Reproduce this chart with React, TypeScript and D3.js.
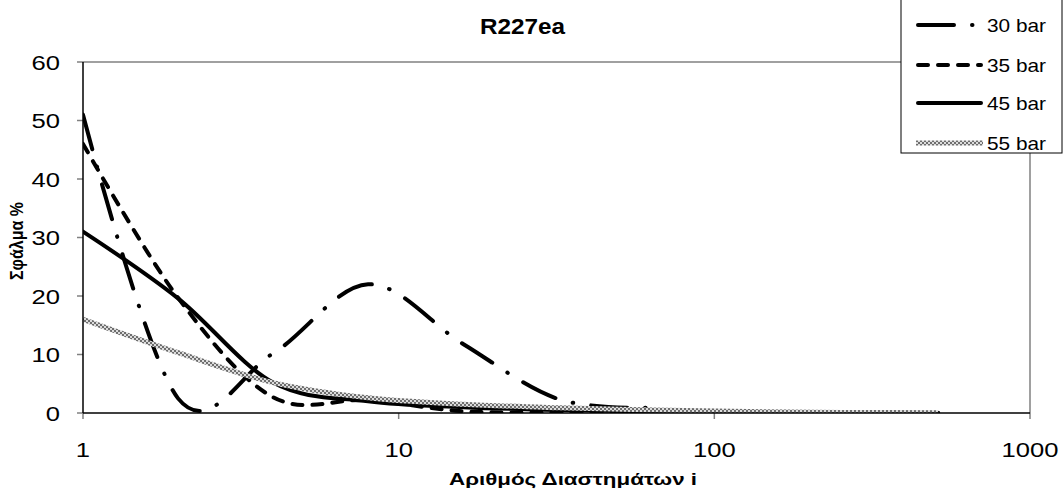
import React from "react";
import * as d3 from "d3";

const title = "R227ea";
const xLabel = "Αριθμός Διαστημάτων i";
const yLabel = "Σφάλμα %";
const iValues = [1, 2, 4, 8, 16, 32, 64, 128, 256, 512];
const bar30 = [51, 2.5, 10.2, 22, 11.8, 2.4, 0.9];
const bar35 = [46, 19.7, 2.7, 2.2, 0.3, 0.1, 0.05, 0.02, 0.01, 0];
const bar45 = [31, 19.6, 5.2, 2.0, 1.0, 0.5, 0.3, 0.1, 0.05, 0.02];
const bar55 = [16, 10.3, 5.2, 2.6, 1.5, 0.9, 0.5, 0.25, 0.1, 0.05];
const seriesNames = ["30 bar", "35 bar", "45 bar", "55 bar"];
const yTicks = [0, 10, 20, 30, 40, 50, 60];
const xTicks = [1, 10, 100, 1000];

const W = 1064;
const H = 491;
const L = 83, R = 1030, T = 62, B = 413;
const FONT = "Arial, 'Liberation Sans', sans-serif";
const SX = 1.22;

const styles = [
  { stroke: "#000", width: 4, dash: "36,18,0.5,18", cap: "round" },
  { stroke: "#000", width: 4, dash: "10,10", cap: "round" },
  { stroke: "#000", width: 4, dash: undefined, cap: "round" },
  { stroke: "url(#checker)", width: 5, dash: undefined, cap: "butt" },
];

export default function App() {
  const x = d3.scaleLog().domain([1, 1000]).range([L, R]);
  const y = d3.scaleLinear().domain([0, 60]).range([B, T]);
  const data = [bar30, bar35, bar45, bar55];
  const line = d3
    .line<[number, number]>()
    .x((d) => x(d[0]))
    .y((d) => y(d[1]))
    .curve(d3.curveCardinal.tension(0));

  const legendY = [25, 65, 103, 143];

  return (
    <svg width={W} height={H} style={{ position: "absolute", left: 0, top: 0, background: "#fff" }}>
      <defs>
        <pattern id="checker" width={4} height={4} patternUnits="userSpaceOnUse">
          <rect width={4} height={4} fill="#dcdcdc" />
          <rect x={0} y={0} width={2} height={2} fill="#6e6e6e" />
          <rect x={2} y={2} width={2} height={2} fill="#6e6e6e" />
        </pattern>
        <clipPath id="plotClip">
          <rect x={L} y={T} width={R - L} height={B - T} />
        </clipPath>
      </defs>
      <rect width={W} height={H} fill="#fff" />
      {/* plot border */}
      <line x1={L} x2={R} y1={T} y2={T} stroke="#808080" strokeWidth={1.5} />
      <line x1={R} x2={R} y1={T} y2={B} stroke="#808080" strokeWidth={1.5} />
      {/* y ticks */}
      {yTicks.map((t) => (
        <g key={"y" + t}>
          <line x1={L - 6} x2={L} y1={y(t)} y2={y(t)} stroke="#808080" strokeWidth={1.5} />
          <text
            transform={`translate(${L - 23},${y(t) + 7.5}) scale(${SX},1)`}
            textAnchor="end"
            fontFamily={FONT}
            fontSize={21}
            fill="#000"
          >
            {t}
          </text>
        </g>
      ))}
      {xTicks.map((t) => (
        <g key={"x" + t}>
          <line x1={x(t)} x2={x(t)} y1={B} y2={B + 6} stroke="#808080" strokeWidth={1.5} />
          <text
            transform={`translate(${x(t)},${B + 44}) scale(${SX},1)`}
            textAnchor="middle"
            fontFamily={FONT}
            fontSize={21}
            fill="#000"
          >
            {t}
          </text>
        </g>
      ))}
      <g clipPath="url(#plotClip)">
        {data.map((vals, si) => {
          const pts: [number, number][] = vals.map((v, k) => [iValues[k], v]);
          const s = styles[si];
          return (
            <path
              key={si}
              d={line(pts) || ""}
              fill="none"
              stroke={s.stroke}
              strokeWidth={s.width}
              strokeDasharray={s.dash}
              strokeLinecap={s.cap as any}
              strokeLinejoin="round"
            />
          );
        })}
      </g>
      {/* axes */}
      <line x1={L} x2={L} y1={T} y2={B} stroke="#000" strokeWidth={1.5} />
      <line x1={L} x2={R} y1={B} y2={B} stroke="#000" strokeWidth={1.5} />
      {/* title */}
      <text
        x={480}
        y={34}
        textLength={85}
        lengthAdjust="spacingAndGlyphs"
        fontFamily={FONT}
        fontSize={22}
        fontWeight="bold"
      >
        {title}
      </text>
      <text
        x={449}
        y={485}
        textLength={248}
        lengthAdjust="spacingAndGlyphs"
        fontFamily={FONT}
        fontSize={17}
        fontWeight="bold"
      >
        {xLabel}
      </text>
      <text
        transform={`translate(23,280) rotate(-90)`}
        x={0}
        y={0}
        textLength={78}
        lengthAdjust="spacingAndGlyphs"
        fontFamily={FONT}
        fontSize={17.5}
        fontWeight="bold"
      >
        {yLabel}
      </text>
      {/* legend */}
      <rect x={901} y={-1} width={161} height={154} fill="#fff" stroke="#000" strokeWidth={1} />
      {seriesNames.map((n, si) => {
        const s = styles[si];
        const ly = legendY[si];
        return (
          <g key={n}>
            <line
              x1={si < 3 ? 918 : 916}
              x2={si < 3 ? 981 : 983}
              y1={ly}
              y2={ly}
              stroke={s.stroke}
              strokeWidth={s.width}
              strokeDasharray={s.dash}
              strokeLinecap={s.cap as any}
            />
            <text
              x={987}
              y={ly + 7}
              textLength={59}
              lengthAdjust="spacingAndGlyphs"
              fontFamily={FONT}
              fontSize={18.5}
              fill="#000"
            >
              {n}
            </text>
          </g>
        );
      })}
    </svg>
  );
}
